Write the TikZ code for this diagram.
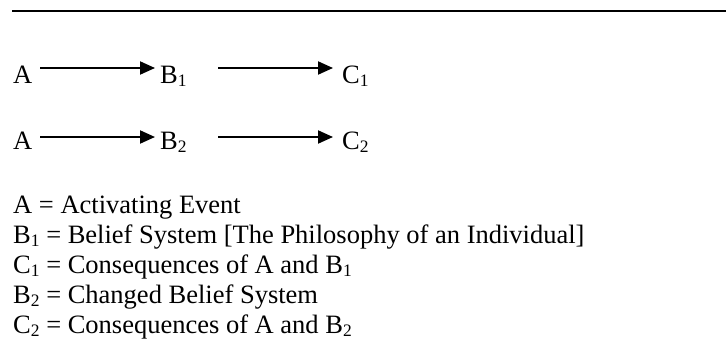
\documentclass[tikz,border=0pt]{standalone}
\usepackage{fontspec}
\setmainfont{Liberation Serif}
\usetikzlibrary{arrows.meta,calc}
\newcommand\subd[1]{\raisebox{-3.5pt}{\fontsize{17.5}{20}\selectfont #1}}
\tikzset{
  lbl/.style={anchor=base west,inner sep=0pt,font=\fontsize{26.5}{30}\selectfont},
  arr/.style={line width=2pt,-{Triangle[length=15pt,width=13pt]}},
  rule/.style={line width=2.4pt}
}
\begin{document}
\begin{tikzpicture}[x=1pt,y=1pt]
\useasboundingbox (0,0) rectangle (726,-340);
\coordinate (r0) at (12,-11);
\coordinate (r1) at (726,-11);
\draw[rule] (r0) -- (r1);
% row 1
\node[lbl] (a1) at (13,-83) {A};
\node[lbl] (b1) at (160,-83) {B\subd{1}};
\node[lbl] (c1) at (342,-83) {C\subd{1}};
% row 2
\node[lbl] (a2) at (13,-149) {A};
\node[lbl] (b2) at (160,-149) {B\subd{2}};
\node[lbl] (c2) at (342,-149) {C\subd{2}};
\draw[arr] ($(a1.base west)+(27,15)$) -- ($(b1.base west)+(-5,15)$);
\draw[arr] ($(b1.base west)+(58,15)$) -- ($(c1.base west)+(-9,15)$);
\draw[arr] ($(a2.base west)+(27,12)$) -- ($(b2.base west)+(-5,12)$);
\draw[arr] ($(b2.base west)+(58,12)$) -- ($(c2.base west)+(-9,12)$);
% legend
\node[lbl] (l1) at (13,-213) {A = Activating Event};
\node[lbl] (l2) at (13,-243) {B\subd{1} = Belief System [The Philosophy of an Individual]};
\node[lbl] (l3) at (13,-273) {C\subd{1} = Consequences of A and B\subd{1}};
\node[lbl] (l4) at (13,-303) {B\subd{2} = Changed Belief System};
\node[lbl] (l5) at (13,-333) {C\subd{2} = Consequences of A and B\subd{2}};
\end{tikzpicture}
\end{document}
